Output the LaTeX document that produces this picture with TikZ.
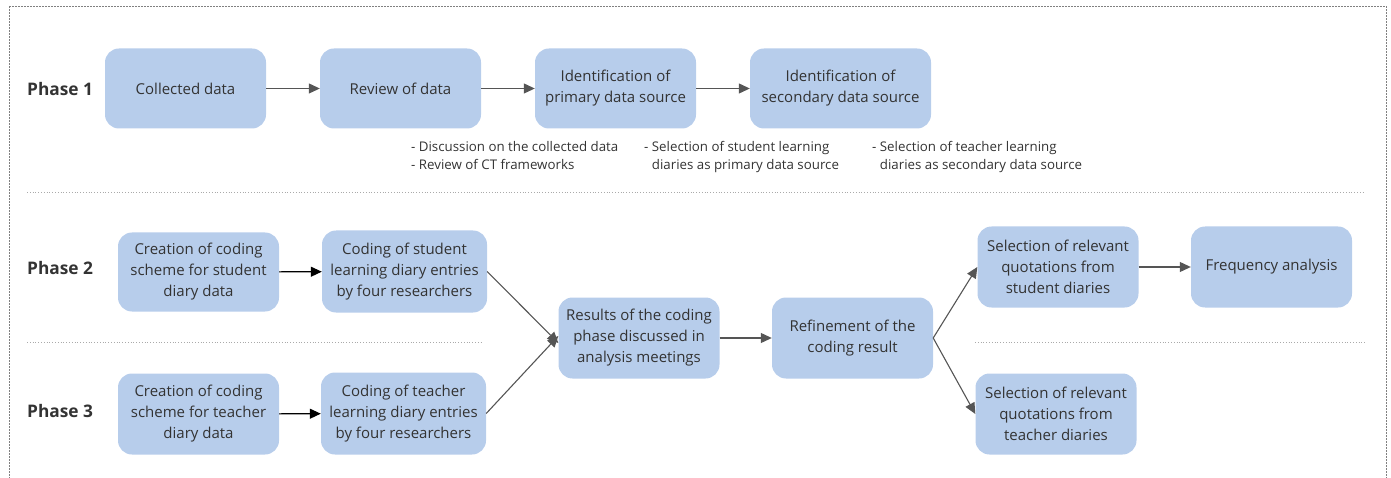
\documentclass[tikz,border=0pt]{standalone}
\usepackage{fontspec}
\setmainfont{Open Sans}
\usetikzlibrary{arrows.meta}
\definecolor{boxfill}{HTML}{B7CDEB}
\definecolor{txt}{HTML}{333333}
\definecolor{arr}{HTML}{555555}
\definecolor{sep}{HTML}{AAAAAA}
\tikzset{
  stepbox/.style={draw=none, fill=boxfill, rounded corners=14pt, minimum width=161pt, minimum height=80pt, align=center, text=txt, font=\fontsize{15}{21}\selectfont, inner sep=0pt},
  phaselbl/.style={font=\fontsize{17.3}{20}\selectfont\bfseries, text=txt, anchor=west, inner sep=0pt},
  note/.style={font=\fontsize{13.3}{18}\selectfont, text=txt, anchor=north west, align=left, inner sep=0pt},
  conn/.style={draw=arr, line width=1.1pt, -{Triangle[length=11pt,width=10pt]}},
  connb/.style={draw=black, line width=1.1pt, -{Triangle[length=11pt,width=10pt]}},
  sepline/.style={draw=sep, line width=0.8pt, dotted},
}
\begin{document}
\begin{tikzpicture}[x=1pt,y=-1pt]
\useasboundingbox (0,0) rectangle (1391,478);
\draw[draw=gray, line width=0.8pt, dash pattern=on 2pt off 1pt] (9,6) rectangle (1386,490);
\draw[sepline] (27,192) -- (1365,192);
\draw[sepline] (27,342) -- (483,342);
\draw[sepline] (975,342) -- (1365,342);

\node[phaselbl] (p1) at (27,89) {Phase 1};
\node[phaselbl] (p2) at (27,268) {Phase 2};
\node[phaselbl] (p3) at (27,411) {Phase 3};

\node[stepbox] (a1) at (185.5,88.5) {Collected data};
\node[stepbox] (a2) at (400.5,88.5) {Review of data};
\node[stepbox] (a3) at (615.5,88.5) {Identification of\\primary data source};
\node[stepbox, minimum width=181pt] (a4) at (840.5,88.5) {Identification of\\secondary data source};

\draw[conn] (a1) -- (a2);
\draw[conn] (a2) -- (a3);
\draw[conn] (a3) -- (a4);

\node[note] (n1) at (411,141) {- Discussion on the collected data\\- Review of CT frameworks};
\node[note] (n2) at (644,141) {- Selection of student learning\\\hphantom{- }diaries as primary data source};
\node[note] (n3) at (872,141) {- Selection of teacher learning\\\hphantom{- }diaries as secondary data source};

\node[stepbox, minimum height=79pt] (b1) at (198.5,272) {Creation of coding\\scheme for student\\diary data};
\node[stepbox, minimum width=165pt, minimum height=82pt] (b2) at (404.5,271.5) {Coding of student\\learning diary entries\\by four researchers};
\node[stepbox, minimum height=81pt] (c1) at (639,338) {Results of the coding\\phase discussed in\\analysis meetings};
\node[stepbox, minimum height=81pt] (c2) at (852.5,338) {Refinement of the\\coding result};
\node[stepbox, minimum height=81pt] (d1) at (1058,267) {Selection of relevant\\quotations from\\student diaries};
\node[stepbox, minimum height=81pt] (d2) at (1271.5,267) {Frequency analysis};

\node[stepbox, minimum height=81pt] (e1) at (198.5,414) {Creation of coding\\scheme for teacher\\diary data};
\node[stepbox, minimum width=165pt, minimum height=82pt] (e2) at (403.5,413.5) {Coding of teacher\\learning diary entries\\by four researchers};
\node[stepbox, minimum height=81pt] (f1) at (1056,414) {Selection of relevant\\quotations from\\teacher diaries};

\draw[connb] (b1) -- (b2);
\draw[connb] (e1) -- (e2);
\draw[conn] (b2.east) -- ([yshift=-5pt]c1.west);
\draw[conn] (e2.east) -- ([yshift=2pt]c1.west);
\draw[conn] (c1) -- (c2);
\draw[conn] (c2.east) -- (d1.west);
\draw[conn] (c2.east) -- (f1.west);
\draw[conn] (d1) -- (d2);
\end{tikzpicture}
\end{document}
